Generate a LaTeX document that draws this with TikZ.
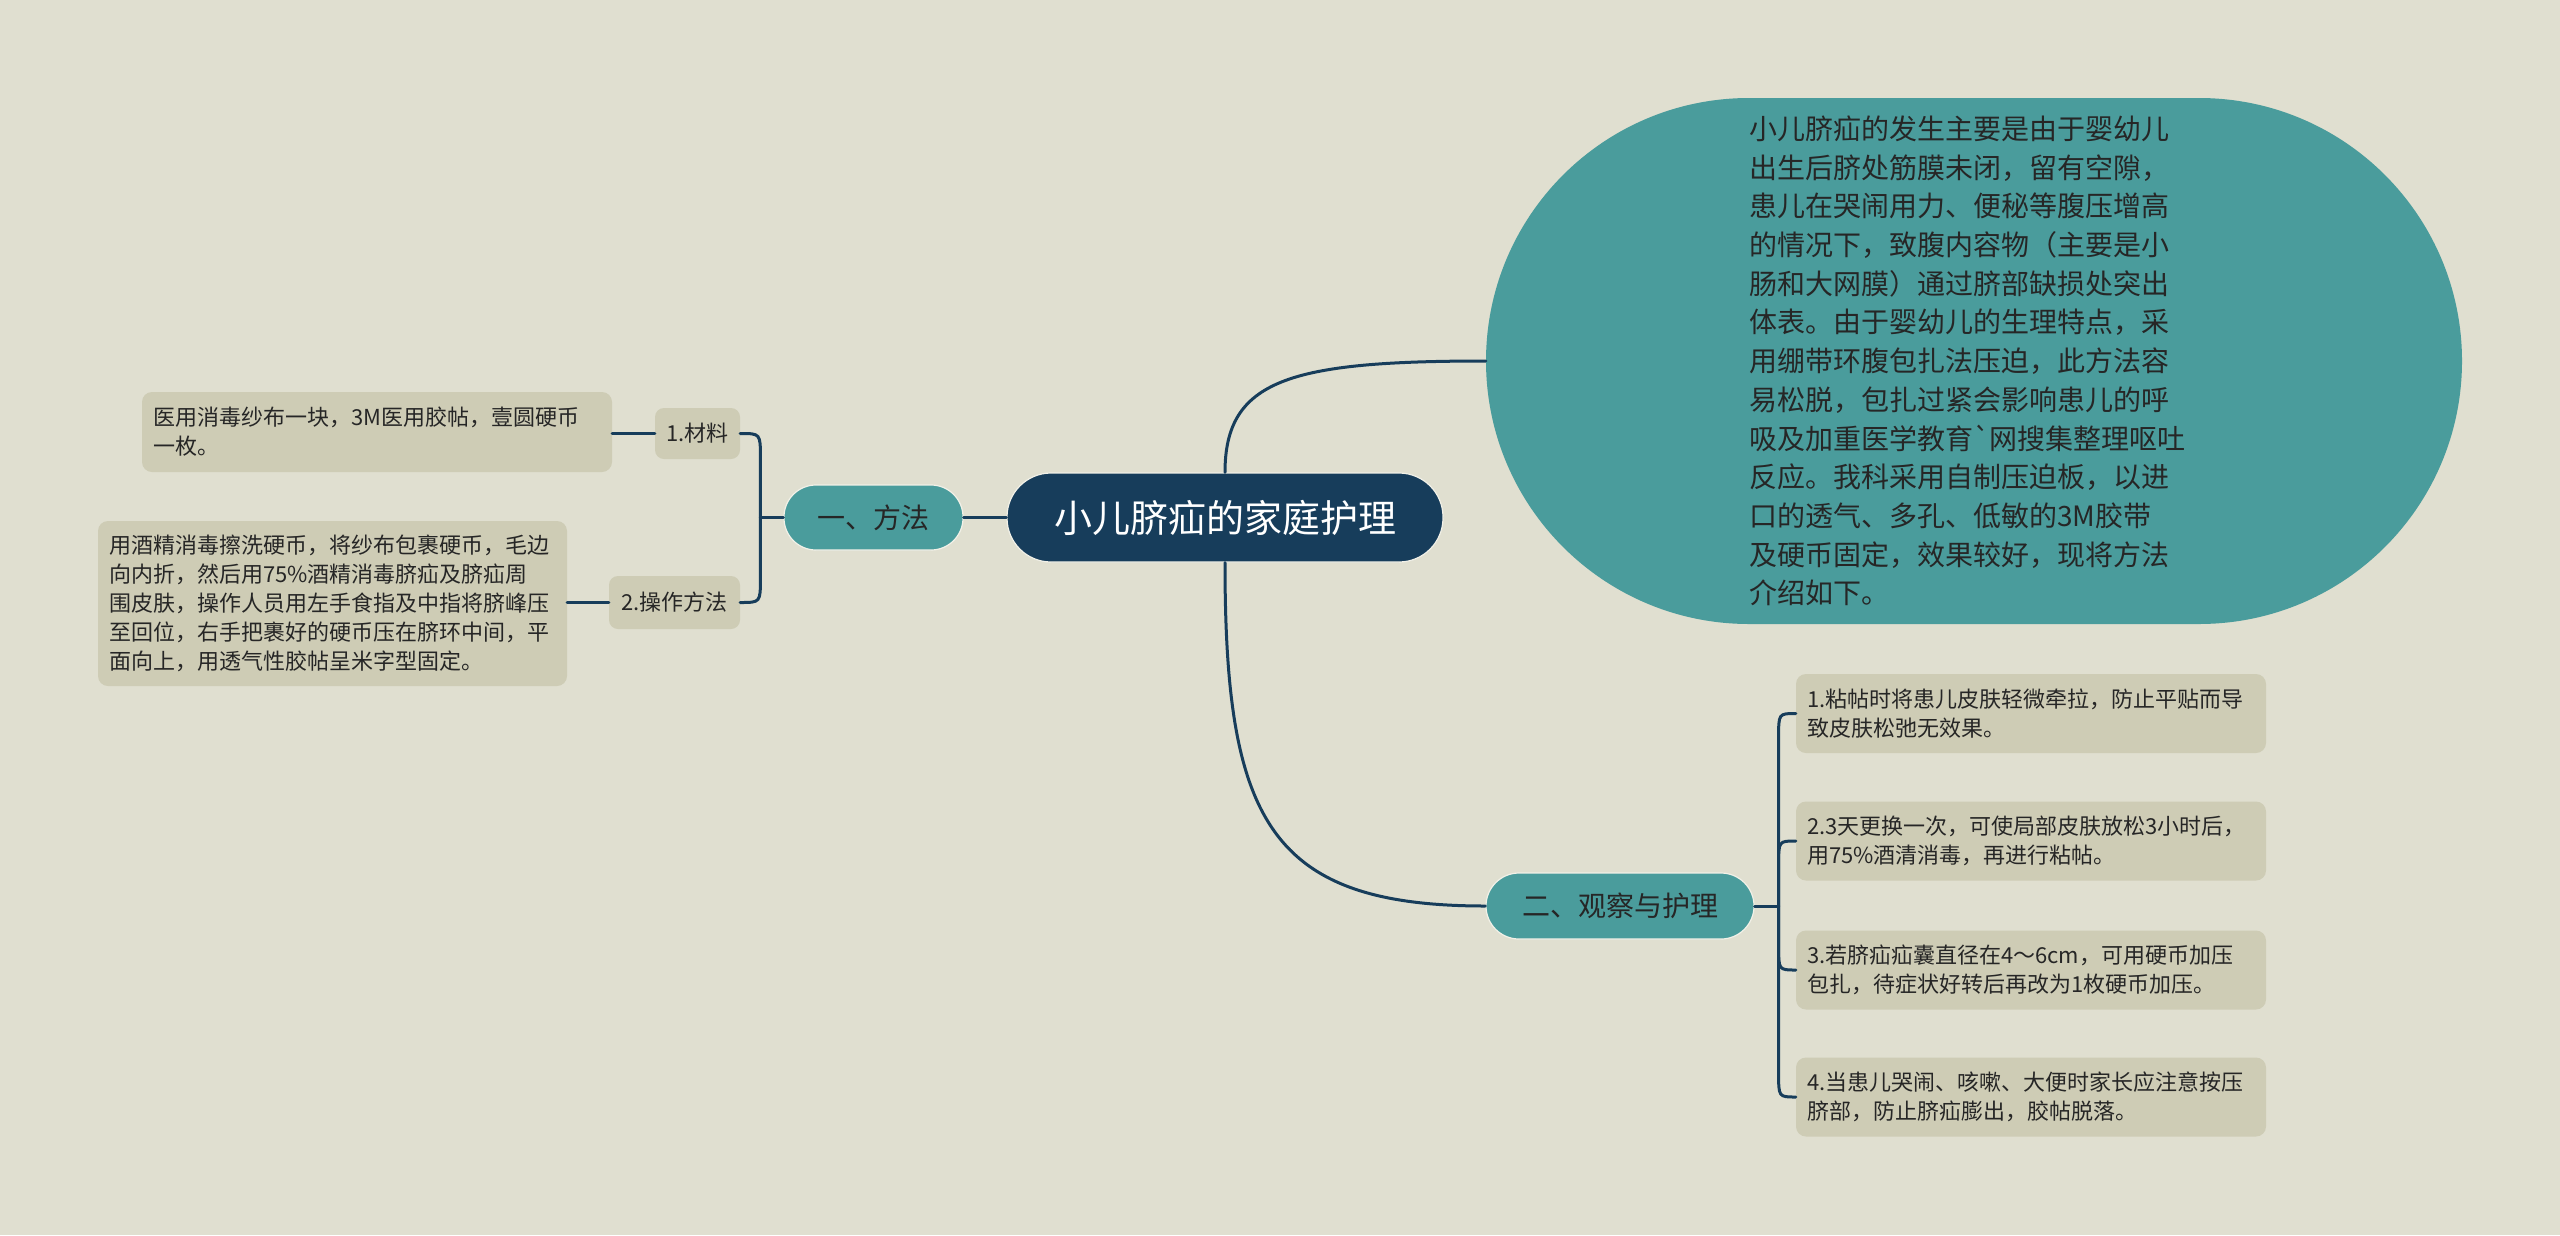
\documentclass[tikz,border=0pt]{standalone}
\usepackage{fontspec}
\setmainfont{Noto Sans CJK SC}
\newfontfamily\rawfont{Noto Sans CJK SC}[Ligatures=TeXOff]
\usetikzlibrary{calc}
\definecolor{bg}{HTML}{E0DFD0}
\definecolor{leaf}{HTML}{CECCB5}
\definecolor{tealc}{HTML}{4A9C9C}
\definecolor{navy}{HTML}{173D5B}
\definecolor{ink}{HTML}{262626}
\definecolor{rim}{HTML}{F2F1E8}
\begin{document}
\begin{tikzpicture}[x=1pt,y=-1pt,
  leafbox/.style={rectangle, rounded corners=10pt, fill=leaf, text=ink, align=left,
    inner xsep=11pt, inner ysep=0pt, font=\fontsize{22}{29}\selectfont},
  subbox/.style={rectangle, rounded corners=9pt, fill=leaf, text=ink, inner sep=0pt,
    font=\fontsize{22}{26}\selectfont},
  mainbox/.style={rectangle, fill=tealc, text=ink, inner sep=0pt, draw=rim, line width=1.2pt,
    font=\fontsize{28}{32}\selectfont},
  rootbox/.style={rectangle, fill=navy, text=white, inner sep=0pt, draw=rim, line width=1.2pt,
    font=\fontsize{38}{44}\selectfont},
  conn/.style={draw=navy, line width=3pt, line cap=round}
]
\fill[bg] (0,0) rectangle (2560,1235);
\useasboundingbox (0,0) rectangle (2560,1235);

% root
\node[rootbox, minimum width=436pt, minimum height=89pt, rounded corners=44pt] (root) at (1225,517.5) {小儿脐疝的家庭护理};

% left branch
\node[mainbox, minimum width=179pt, minimum height=65pt, rounded corners=32pt] (fa) at (873.5,517.5) {一、方法};
\node[subbox, minimum width=85pt, minimum height=51pt] (cl) at (697.5,433.5) {1.材料};
\node[subbox, minimum width=131pt, minimum height=53pt] (cz) at (674.5,602.5) {2.操作方法};
\node[leafbox, minimum width=470pt, text width=448pt, minimum height=80pt] (l1) at (377,432)
  {医用消毒纱布一块，3M医用胶帖，壹圆硬币\\一枚。};
\node[leafbox, minimum width=469pt, text width=447pt, minimum height=165pt] (l2) at (332.5,603.5)
  {用酒精消毒擦洗硬币，将纱布包裹硬币，毛边\\向内折，然后用75\%酒精消毒脐疝及脐疝周\\围皮肤，操作人员用左手食指及中指将脐峰压\\至回位，右手把裹好的硬币压在脐环中间，平\\面向上，用透气性胶帖呈米字型固定。};

% big pill
\node[rectangle, fill=tealc, text=ink, minimum width=976pt, minimum height=526pt, rounded corners=263pt,
  inner sep=0pt, align=left, text width=450pt, font=\fontsize{28}{38.7}\selectfont] (el) at (1974,361)
  {小儿脐疝的发生主要是由于婴幼儿\\出生后脐处筋膜未闭，留有空隙，\\患儿在哭闹用力、便秘等腹压增高\\的情况下，致腹内容物（主要是小\\肠和大网膜）通过脐部缺损处突出\\体表。由于婴幼儿的生理特点，采\\用绷带环腹包扎法压迫，此方法容\\易松脱，包扎过紧会影响患儿的呼\\吸及加重医学教育{\rawfont\symbol{96}}网搜集整理呕吐\\反应。我科采用自制压迫板，以进\\口的透气、多孔、低敏的3M胶带\\及硬币固定，效果较好，现将方法\\介绍如下。};

% right branch
\node[mainbox, minimum width=268pt, minimum height=66pt, rounded corners=33pt] (gc) at (1620,906) {二、观察与护理};
\node[leafbox, minimum width=470pt, text width=448pt, minimum height=79pt] (r1) at (2031,713.5)
  {1.粘帖时将患儿皮肤轻微牵拉，防止平贴而导\\致皮肤松弛无效果。};
\node[leafbox, minimum width=470pt, text width=448pt, minimum height=79pt] (r2) at (2031,841)
  {2.3天更换一次，可使局部皮肤放松3小时后，\\用75\%酒清消毒，再进行粘帖。};
\node[leafbox, minimum width=470pt, text width=448pt, minimum height=79pt] (r3) at (2031,970)
  {3.若脐疝疝囊直径在4～6cm，可用硬币加压\\包扎，待症状好转后再改为1枚硬币加压。};
\node[leafbox, minimum width=470pt, text width=448pt, minimum height=79pt] (r4) at (2031,1097)
  {4.当患儿哭闹、咳嗽、大便时家长应注意按压\\脐部，防止脐疝膨出，胶帖脱落。};

% connectors: root
\draw[conn] (root.west) -- (fa.east);
\draw[conn] (root.north) .. controls ($(root.north)+(0,-93)$) and ($(el.west)+(-196,0)$) .. (el.west);
\draw[conn] (root.south) .. controls ($(root.south)+(0,258)$) and ($(gc.west)+(-216,0)$) .. (gc.west);

% left bracket
\draw[conn] (fa.west) -- ++(-23,0) coordinate (s1);
\draw[conn] (s1) -- ($(s1|-cl.east)+(0,24)$) .. controls (s1|-cl.east) .. (cl.east);
\draw[conn] (s1) -- ($(s1|-cz.east)+(0,-24)$) .. controls (s1|-cz.east) .. (cz.east);
\draw[conn] (cl.west) -- (l1.east|-cl.west);
\draw[conn] (cz.west) -- (l2.east|-cz.west);

% right bracket
\draw[conn] (gc.east) -- ++(24,0) coordinate (s2);
\foreach \r/\d in {r1/24, r2/24, r3/-24, r4/-24}{
  \draw[conn] (s2) -- ($(s2|-\r.west)+(0,\d)$) .. controls (s2|-\r.west) .. (\r.west);
}
\end{tikzpicture}
\end{document}
